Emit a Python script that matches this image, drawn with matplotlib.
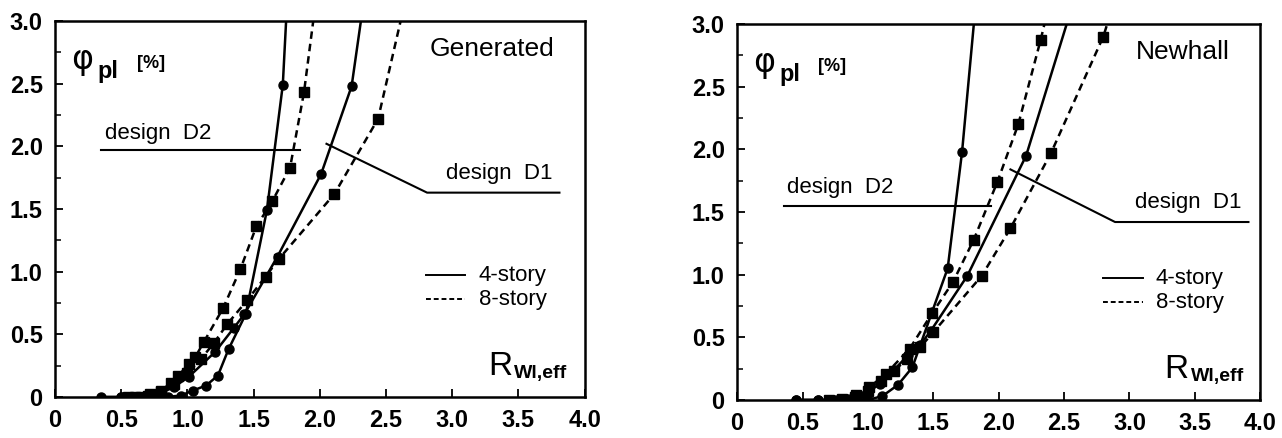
import matplotlib.pyplot as plt
import numpy as np

plt.rcParams['font.family'] = ['Liberation Sans', 'DejaVu Sans']

# ---- Generated ----
gen_4a_x = [0.35, 0.5, 0.6, 0.7, 0.85, 0.95, 1.04, 1.14, 1.23, 1.31, 1.44, 1.60, 1.72, 1.745]
gen_4a_y = [0.0, 0.0, 0.0, 0.0, 0.0, 0.01, 0.05, 0.09, 0.17, 0.38, 0.66, 1.49, 2.49, 3.0]
gen_4b_x = [0.5, 0.6, 0.7, 0.8, 0.9, 1.01, 1.21, 1.35, 1.43, 1.68, 2.01, 2.24, 2.31]
gen_4b_y = [0.0, 0.0, 0.01, 0.03, 0.08, 0.16, 0.36, 0.55, 0.66, 1.12, 1.78, 2.48, 3.0]
gen_8a_x = [0.55, 0.65, 0.72, 0.8, 0.875, 0.93, 1.01, 1.06, 1.125, 1.27, 1.40, 1.52, 1.64, 1.775, 1.88, 1.95]
gen_8a_y = [0.0, 0.0, 0.02, 0.05, 0.11, 0.17, 0.26, 0.32, 0.44, 0.71, 1.02, 1.36, 1.56, 1.83, 2.43, 3.0]
gen_8b_x = [0.6, 0.7, 0.8, 0.9, 1.0, 1.1, 1.2, 1.3, 1.45, 1.59, 1.69, 2.11, 2.44, 2.61]
gen_8b_y = [0.0, 0.01, 0.04, 0.10, 0.19, 0.30, 0.43, 0.58, 0.77, 0.96, 1.10, 1.62, 2.22, 3.0]

# ---- Newhall ----
new_4a_x = [0.45, 0.62, 0.75, 0.9, 1.0, 1.11, 1.23, 1.34, 1.49, 1.61, 1.72, 1.81]
new_4a_y = [0.0, 0.0, 0.0, 0.0, 0.0, 0.03, 0.12, 0.26, 0.70, 1.05, 1.98, 3.0]
new_4b_x = [0.45, 0.62, 0.7, 0.85, 0.98, 1.09, 1.20, 1.31, 1.40, 1.48, 1.76, 2.21, 2.52]
new_4b_y = [0.0, 0.0, 0.0, 0.01, 0.04, 0.13, 0.24, 0.36, 0.44, 0.55, 0.99, 1.95, 3.0]
new_8a_x = [0.7, 0.8, 0.91, 1.01, 1.14, 1.32, 1.49, 1.65, 1.81, 1.99, 2.15, 2.32, 2.35]
new_8a_y = [0.0, 0.01, 0.04, 0.10, 0.21, 0.41, 0.69, 0.94, 1.28, 1.74, 2.20, 2.87, 3.0]
new_8b_x = [0.8, 0.9, 1.0, 1.1, 1.2, 1.3, 1.4, 1.5, 1.87, 2.09, 2.40, 2.80, 2.83]
new_8b_y = [0.0, 0.02, 0.07, 0.15, 0.23, 0.33, 0.42, 0.54, 0.99, 1.37, 1.97, 2.90, 3.0]

xticks = [0, 0.5, 1.0, 1.5, 2.0, 2.5, 3.0, 3.5, 4.0]
xlabels = ['0', '0.5', '1.0', '1.5', '2.0', '2.5', '3.0', '3.5', '4.0']
yticks = [0, 0.5, 1.0, 1.5, 2.0, 2.5, 3.0]
ylabels = ['0', '0.5', '1.0', '1.5', '2.0', '2.5', '3.0']

panels = [
    dict(rect=[0.043, 0.094, 0.413, 0.858], title='Generated',
         curves=[(gen_4a_x, gen_4a_y, '-', 'o'), (gen_4b_x, gen_4b_y, '-', 'o'),
                 (gen_8a_x, gen_8a_y, '--', 's'), (gen_8b_x, gen_8b_y, '--', 's')],
         d2=([0.35, 1.85], [1.97, 1.97]), d2txt=(0.38, 2.02),
         d1=([2.05, 2.81, 3.81], [2.02, 1.63, 1.63]), d1txt=(3.76, 1.70)),
    dict(rect=[0.575, 0.087, 0.408, 0.858], title='Newhall',
         curves=[(new_4a_x, new_4a_y, '-', 'o'), (new_4b_x, new_4b_y, '-', 'o'),
                 (new_8a_x, new_8a_y, '--', 's'), (new_8b_x, new_8b_y, '--', 's')],
         d2=([0.36, 1.94], [1.55, 1.55]), d2txt=(0.38, 1.61),
         d1=([2.09, 2.89, 3.91], [1.84, 1.42, 1.42]), d1txt=(3.86, 1.49)),
]

fig = plt.figure(figsize=(12.82, 4.38), dpi=100)

for p in panels:
    ax = fig.add_axes(p['rect'])
    for x, y, ls, mk in p['curves']:
        ax.plot(x, y, color='black', linestyle=ls, lw=1.8,
                marker=mk, ms=6.5, markevery=list(range(len(x) - 1)),
                dashes=(3, 2) if ls == '--' else (None, None))
    ax.plot(*p['d2'], color='black', lw=1.5)
    ax.plot(*p['d1'], color='black', lw=1.5)
    ax.text(p['d2txt'][0], p['d2txt'][1], 'design  D2', fontsize=16, ha='left', va='bottom')
    ax.text(p['d1txt'][0], p['d1txt'][1], 'design  D1', fontsize=16, ha='right', va='bottom')
    ax.text(3.77, 2.78, p['title'], fontsize=19, ha='right', va='center')
    # legend drawn by hand
    ax.plot([2.8, 3.1], [0.97, 0.97], color='black', lw=1.4)
    ax.plot([2.8, 3.1], [0.78, 0.78], color='black', lw=1.4, dashes=(2.5, 1.5))
    ax.text(3.2, 0.97, '4-story', fontsize=16, va='center')
    ax.text(3.2, 0.78, '8-story', fontsize=16, va='center')
    ax.text(3.27, 0.12, 'R', fontsize=24, va='bottom')
    ax.text(3.47, 0.12, 'Wl,eff', fontsize=14, va='bottom', fontweight='bold')
    ax.text(0.12, 2.68, r'$\mathregular{\varphi}$', fontsize=24, va='center',
            family='DejaVu Sans')
    ax.text(0.32, 2.60, 'pl', fontsize=17, va='center', fontweight='bold')
    ax.text(0.62, 2.66, '[%]', fontsize=13, va='center', fontweight='bold')
    ax.set_xlim(0, 4.0)
    ax.set_ylim(0, 3.0)
    ax.set_xticks(xticks)
    ax.set_xticklabels(xlabels)
    ax.set_yticks(yticks)
    ax.set_yticklabels(ylabels)
    ax.set_yticks(np.arange(0, 3.01, 0.25), minor=True)
    ax.tick_params(direction='in', length=6, width=1.3, labelsize=17, pad=9)
    ax.tick_params(which='minor', direction='in', length=4, width=1.1)
    for lab in ax.get_xticklabels() + ax.get_yticklabels():
        lab.set_fontweight('bold')
    for s in ax.spines.values():
        s.set_linewidth(1.8)

fig.savefig('out.png', dpi=100)
